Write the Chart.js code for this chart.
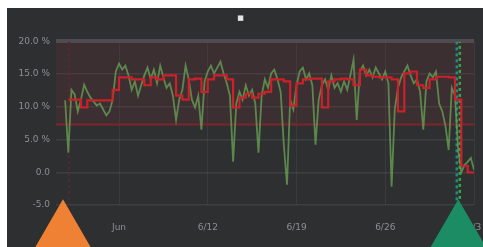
<!DOCTYPE html>
<html>
<head>
<meta charset="utf-8">
<script src="https://cdn.jsdelivr.net/npm/chart.js@4"></script>
<style>
  body { margin: 0; background: #fff; }
  #wrap { position: absolute; left: 7px; top: 8px; width: 476px; height: 239px; background: #2e2f31; }
</style>
</head>
<body>
<div id="wrap"><canvas id="chart"></canvas></div>
<script>
// raw readings, one every 6 hours, starting at day 2.75
const rawStartDay = 2.75;
const rawStepDays = 0.25;
const rawValues = [
  11.0, 3.0, 12.6, 11.9, 9.3, 11.1, 13.4, 12.3, 11.4, 10.8,
  10.2, 10.5, 9.6, 8.7, 9.3, 11.1, 15.4, 16.6, 15.7, 16.3,
  14.8, 12.6, 13.9, 11.7, 13.3, 14.8, 16.0, 14.2, 15.7, 13.6,
  16.3, 14.5, 12.9, 13.6, 11.7, 8.0, 11.1, 12.6, 16.3, 14.2,
  11.1, 9.9, 11.7, 6.5, 13.9, 15.4, 16.3, 15.1, 16.0, 16.9,
  15.1, 13.6, 11.7, 1.6, 10.5, 12.3, 11.1, 13.3, 11.7, 12.6,
  10.5, 3.0, 11.7, 14.2, 12.9, 15.1, 15.7, 14.2, 12.3, 4.2,
  -1.9, 11.1, 9.6, 13.3, 15.4, 16.0, 14.2, 15.1, 13.3, 4.2,
  11.1, 13.3, 14.2, 12.6, 14.8, 12.9, 13.6, 12.3, 13.9, 12.6,
  14.8, 17.2, 8.0, 15.4, 16.3, 14.8, 15.7, 14.5, 16.0, 15.1,
  14.2, 15.4, 13.6, -2.2, 9.6, 12.9, 14.5, 15.4, 16.3, 14.8,
  13.6, 14.2, 12.3, 6.5, 13.9, 15.1, 14.5, 15.4, 10.5, 9.3,
  7.1, 3.4, 12.9, 11.7, 3.4, 0.0, 1.1, 1.6, 2.2, 0.4
];

// rolling median, one every 12 hours, starting at day 3
const medianStartDay = 3.0;
const medianStepDays = 0.5;
const medianValues = [
  11.1, 11.1, 9.9, 11.0, 11.0, 11.0, 11.0, 12.6, 14.5, 14.5,
  14.2, 14.2, 13.3, 14.5, 14.2, 14.8, 14.8, 11.7, 11.1, 14.2,
  14.3, 12.3, 14.2, 14.8, 14.8, 14.2, 9.9, 11.4, 12.0, 11.4,
  12.0, 12.3, 14.2, 14.2, 13.9, 10.2, 13.6, 14.2, 14.3, 14.3,
  9.9, 13.9, 14.2, 14.3, 14.2, 13.3, 15.7, 14.8, 14.6, 14.5,
  14.5, 14.2, 9.3, 15.1, 15.4, 13.3, 12.9, 14.2, 14.6, 14.6,
  14.5, 11.1, 1.0, 0.0, 0.0
];

const threshold = 7.3;
const rangeStartDay = 3.06;
const rangeEndDay = 33.76;
const startHandleDay = 2.58;
const handleLevel = -9;

const xMin = 2.03;
const xMax = 35;
const xTicks = [7, 14, 21, 28, 35];
const xTickLabels = ['Jun', '6/12', '6/19', '6/26', '7/3'];
const yTicks = [-5, 0, 5, 10, 15, 20];
const yTickLabels = ['-5.0', '0.0', '5.0 %', '10.0 %', '15.0 %', '20.0 %'];

const rawPoints = rawValues.map((v, i) => ({ x: rawStartDay + i * rawStepDays, y: v }));
const medianPoints = medianValues.map((v, i) => ({ x: medianStartDay + i * medianStepDays, y: v }));
const yTop = yTicks[yTicks.length - 1];
const yBottom = yTicks[0];

const ctx = document.querySelector('#chart').getContext('2d');

new Chart(ctx, {
  type: 'line',
  data: {
    datasets: [
      {
        type: 'scatter',
        data: [{ x: startHandleDay, y: handleLevel }],
        pointStyle: 'triangle',
        pointRadius: 32,
        backgroundColor: '#ee8134',
        borderWidth: 0,
        clip: false
      },
      {
        type: 'scatter',
        data: [{ x: rangeEndDay, y: handleLevel }],
        pointStyle: 'triangle',
        pointRadius: 32,
        backgroundColor: '#1b8c64',
        borderWidth: 0,
        clip: false
      },
      {
        data: medianPoints,
        borderColor: '#cc2129',
        borderWidth: 2.2,
        stepped: true,
        pointRadius: 0
      },
      {
        data: rawPoints,
        borderColor: 'rgba(104,158,84,0.8)',
        borderWidth: 1.8,
        tension: 0,
        pointRadius: 0
      },
      {
        data: [{ x: rangeEndDay - 0.12, y: yTop }, { x: rangeEndDay - 0.12, y: yBottom + 0.6 }],
        borderColor: '#1e8c80',
        borderWidth: 2.5,
        borderDash: [3, 3],
        pointRadius: 0
      },
      {
        data: [{ x: rangeEndDay + 0.12, y: yTop }, { x: rangeEndDay + 0.12, y: yBottom + 0.6 }],
        borderColor: '#34a64a',
        borderWidth: 2.5,
        borderDash: [3, 3],
        borderDashOffset: 1.5,
        pointRadius: 0
      },
      {
        data: [{ x: rangeStartDay, y: yTop }, { x: rangeStartDay, y: yBottom }],
        borderColor: '#64262c',
        borderWidth: 2,
        borderDash: [2, 4],
        pointRadius: 0
      },
      {
        data: [{ x: xMin, y: threshold }, { x: xMax, y: threshold }],
        borderColor: '#7c252b',
        borderWidth: 2,
        pointRadius: 0
      },
      {
        data: [{ x: xMin, y: yTop }, { x: xMax, y: yTop }],
        borderWidth: 0,
        pointRadius: 0,
        fill: { value: threshold },
        backgroundColor: 'rgba(125,45,62,0.17)'
      }
    ]
  },
  options: {
    responsive: true,
    maintainAspectRatio: false,
    animation: false,
    events: [],
    layout: { autoPadding: false, padding: { left: 0, right: 9, top: 0, bottom: 0 } },
    plugins: {
      legend: { display: false },
      tooltip: { enabled: false },
      title: {
        display: true,
        text: '■',
        color: '#e4e4e4',
        font: { family: 'DejaVu Sans', size: 7 },
        padding: { top: 6, bottom: 19 }
      }
    },
    scales: {
      x: {
        type: 'linear',
        min: xMin,
        max: xMax,
        afterBuildTicks: (scale) => { scale.ticks = xTicks.map(v => ({ value: v })); },
        afterFit: (scale) => {
          scale.height = 42;
          scale.paddingLeft = 0;
          scale.paddingRight = 0;
        },
        ticks: {
          color: '#8d8f93',
          font: { family: 'DejaVu Sans', size: 9 },
          padding: 17,
          maxRotation: 0,
          callback: (v) => xTickLabels[xTicks.indexOf(v)]
        },
        grid: { color: 'rgba(255,255,255,0.06)', drawTicks: false },
        border: { display: false }
      },
      y: {
        min: yBottom,
        max: yTop,
        afterFit: (scale) => {
          scale.width = 49;
          scale.paddingTop = 0;
          scale.paddingBottom = 0;
        },
        afterBuildTicks: (scale) => { scale.ticks = yTicks.map(v => ({ value: v })); },
        ticks: {
          color: '#8d8f93',
          font: { family: 'DejaVu Sans', size: 9 },
          padding: 6,
          callback: (v) => yTickLabels[yTicks.indexOf(v)]
        },
        grid: {
          color: (c) => c.tick && c.tick.value === yTop ? 'rgba(120,110,125,0.45)' : 'rgba(255,255,255,0.08)',
          lineWidth: (c) => c.tick && c.tick.value === yTop ? 4 : 1.5,
          drawTicks: false
        },
        border: { display: false }
      }
    }
  }
});
</script>
</body>
</html>
